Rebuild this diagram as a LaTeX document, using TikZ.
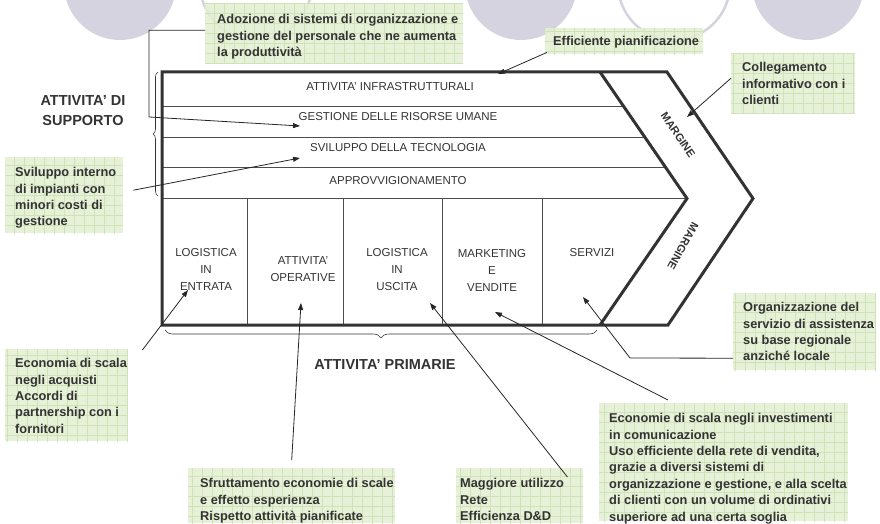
\documentclass[tikz,border=0pt]{standalone}
\usepackage{fontspec}
\setmainfont{Liberation Sans}
\usetikzlibrary{arrows.meta,decorations.pathreplacing,calc}
\definecolor{lav}{HTML}{D6D3E0}
\definecolor{gfill}{HTML}{E3EFD2}
\definecolor{ggrid}{HTML}{D0E3B8}
\definecolor{ink}{HTML}{333333}
\definecolor{thinc}{HTML}{4D4D4D}
\begin{document}
\begin{tikzpicture}[x=1pt,y=-1pt,
  gbox/.style={fill=gfill, fill opacity=0.88, draw=none, inner sep=0, anchor=north west,
    path picture={\draw[ggrid,line width=0.4pt,step=10pt] ([shift={(-20pt,-20pt)}]path picture bounding box.south west) grid ([shift={(20pt,20pt)}]path picture bounding box.north east);}},
  btxt/.style={font=\fontsize{12.8}{16.4}\selectfont\bfseries, text=ink, align=left, inner sep=0, anchor=north west},
  ctxt/.style={font=\fontsize{11.5}{17}\selectfont, text=ink, align=center, inner sep=0},
  htxt/.style={font=\fontsize{14.5}{20}\selectfont\bfseries, text=ink, align=center, inner sep=0},
  mtxt/.style={font=\fontsize{11}{13}\selectfont\bfseries, text=ink, inner sep=0},
  chev/.style={line width=3pt, draw=ink, line join=miter},
  rowline/.style={line width=0.9pt, draw=thinc},
  arr/.style={line width=0.8pt, draw=black!85, -{Triangle[length=7pt,width=5pt]}},
  brc/.style={line width=0.6pt, draw=black!80, decorate, decoration={brace, amplitude=#1}},
]
\useasboundingbox (0,0) rectangle (880,524);
\begin{scope}
\clip (0,0) rectangle (880,524);
% background circles
\fill[lav] (120,-16) circle[radius=56pt];
\draw[lav, line width=2.5pt, fill=white] (256,-16) circle[radius=56pt];
\fill[lav] (521,-16) circle[radius=56pt];
\draw[lav, line width=2.5pt, fill=white] (674,-16) circle[radius=56pt];
\fill[lav] (808,-16) circle[radius=56pt];
\end{scope}

% chevron corners
\coordinate (TL) at (162,72);
\coordinate (TR) at (667,72);
\coordinate (TIP) at (753,198.5);
\coordinate (BR) at (668,325);
\coordinate (BL) at (162,325);
\coordinate (IT) at (600,72);
\coordinate (ITIP) at (687,198.5);
\coordinate (IB) at (600,325);

% rows of support activities
\draw[rowline] (162,106) -- (623.5,106);
\draw[rowline] (162,137) -- (644.9,137);
\draw[rowline] (162,167) -- (665.6,167);
\draw[rowline] (162,198.5) -- (ITIP);
% columns of primary activities
\foreach \cx in {247,343,442,542} \draw[rowline] (\cx,198.5) -- (\cx,325);

% outline
\draw[chev] (TL) -- (TR) -- (TIP) -- (BR) -- (BL) -- cycle;
\draw[chev] (IT) -- (ITIP) -- (IB);

% chevron labels
\node[ctxt] (infra) at (390,87) {ATTIVITA' INFRASTRUTTURALI};
\node[ctxt] (hrm) at (398,117) {GESTIONE DELLE RISORSE UMANE};
\node[ctxt] (tech) at (398,148) {SVILUPPO DELLA TECNOLOGIA};
\node[ctxt] (proc) at (398,181) {APPROVVIGIONAMENTO};
\node[ctxt] (inlog) at (206,269) {LOGISTICA\\IN\\ENTRATA};
\node[ctxt] (ops) at (303,269.5) {ATTIVITA'\\OPERATIVE};
\node[ctxt] (outlog) at (397,270) {LOGISTICA\\IN\\USCITA};
\node[ctxt] (mkt) at (492,270) {MARKETING\\E\\VENDITE};
\node[ctxt] (serv) at (592,253) {SERVIZI};
\node[mtxt, rotate=-56] (marg1) at (678,135) {MARGINE};
\node[mtxt, rotate=-119] (marg2) at (683,246) {MARGINE};

% braces and headings
\draw[brc=5pt] (158,196) -- (158,72);
\draw[brc=8pt] (597,330) -- (165,330);
\node[htxt] (supp) at (83,111) {ATTIVITA' DI\\SUPPORTO};
\node[htxt] (prim) at (385,365) {ATTIVITA' PRIMARIE};

% green note boxes
\node[gbox, minimum width=258pt, minimum height=60pt] (adoz) at (205,3) {};
\node[btxt] (adozt) at (217,14.3) {Adozione di sistemi di organizzazione e\\gestione del personale che ne aumenta\\la produttività};
\node[gbox, minimum width=158pt, minimum height=26pt] (effic) at (545,28) {};
\node[btxt] (effict) at (553,36.3) {Efficiente pianificazione};
\node[gbox, minimum width=124pt, minimum height=60pt] (colleg) at (731,53) {};
\node[btxt] (collegt) at (742,62.3) {Collegamento\\informativo con i\\clienti};
\node[gbox, minimum width=118pt, minimum height=76pt] (svil) at (5,157) {};
\node[btxt] (svilt) at (15,167.3) {Sviluppo interno\\di impianti con\\minori costi di\\gestione};
\node[gbox, minimum width=143pt, minimum height=77pt] (organ) at (733,293) {};
\node[btxt] (organt) at (743,302.3) {Organizzazione del\\servizio di assistenza\\su base regionale\\anziché locale};
\node[gbox, minimum width=123pt, minimum height=92pt] (econl) at (5,349) {};
\node[btxt] (econlt) at (15,358.3) {Economia di scala\\negli acquisti\\Accordi di\\partnership con i\\fornitori};
\node[gbox, minimum width=207pt, minimum height=55pt] (sfrut) at (188,468) {};
\node[btxt] (sfrutt) at (200,478.3) {Sfruttamento economie di scale\\e effetto esperienza\\Rispetto attività pianificate};
\node[gbox, minimum width=127pt, minimum height=55pt] (maggi) at (456,468) {};
\node[btxt] (maggit) at (460,478.3) {Maggiore utilizzo\\Rete\\Efficienza D\&D};
\node[gbox, minimum width=249pt, minimum height=118pt] (econr) at (599,403) {};
\node[btxt] (econrt) at (609,413.3) {Economie di scala negli investimenti\\in comunicazione\\Uso efficiente della rete di vendita,\\grazie a diversi sistemi di\\organizzazione e gestione, e alla scelta\\di clienti con un volume di ordinativi\\superiore ad una certa soglia};

% arrow targets
\coordinate (tA) at (300,126);
\coordinate (tB) at (498,74);
\coordinate (tC) at (687,117);
\coordinate (tD) at (300,158);
\coordinate (tE) at (188,290);
\coordinate (tF) at (301,303);
\coordinate (tG) at (430,303);
\coordinate (tH) at (495,312);
\coordinate (tI) at (583,297);

% connectors
\draw[arr] ([yshift=3pt]adoz.west) -| (149,117) -- (tA);
\draw[arr] ([shift={(2pt,2pt)}]effic.south west) -- (tB);
\draw[arr] ([yshift=5pt]colleg.west) -- (tC);
\draw[arr] ([xshift=10pt,yshift=5pt]svil.east) -- (tD);
\draw[arr] ([xshift=14pt,yshift=-1pt]econl.north east) -- (tE);
\draw[arr] ([yshift=8pt]sfrut.north) -- (tF);
\draw[arr] ([xshift=-16pt,yshift=-9pt]maggi.north east) -- (tG);
\draw[arr] ([xshift=69pt,yshift=3pt]econr.north west) -- (tH);
\draw[arr] ([yshift=-26.5pt]organ.west) -- (630,358) -- (tI);
\end{tikzpicture}
\end{document}
